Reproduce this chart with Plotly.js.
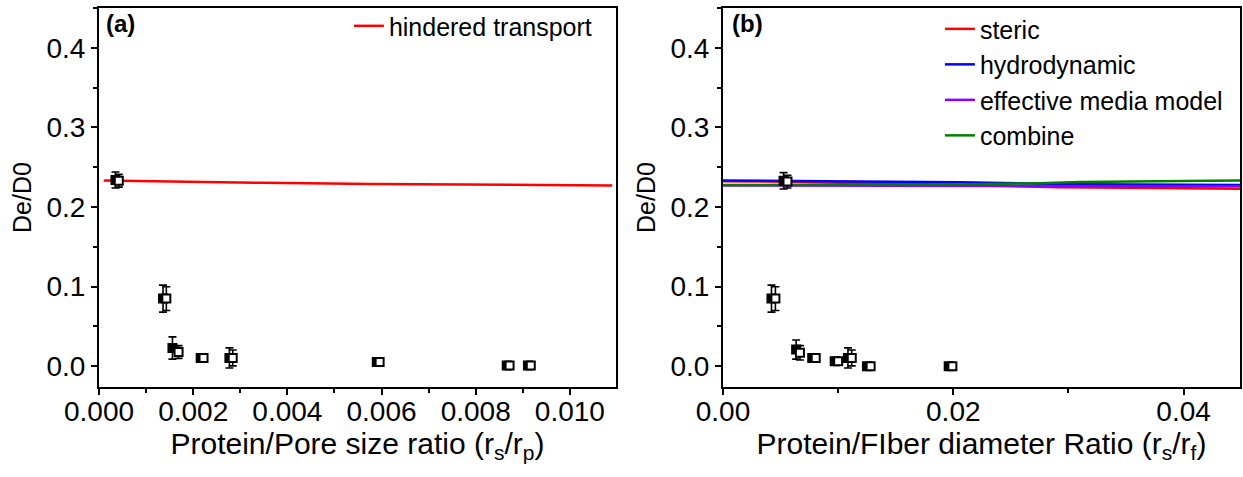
<!DOCTYPE html>
<html>
<head>
<meta charset="utf-8">
<script src="https://cdn.plot.ly/plotly-3.0.1.min.js"></script>
<style>html,body{margin:0;padding:0;background:#fff;}#chart{width:1243px;height:477px;}</style>
</head>
<body>
<div id="chart"></div>
<script>
// ---------- Panel (a) data ----------
const aFilledX = [0.00035, 0.00136, 0.00156, 0.00216, 0.00277, 0.00590, 0.00866, 0.00911];
const aFilledY = [0.234, 0.085, 0.023, 0.0105, 0.0105, 0.0055, 0.001, 0.001];
const aFilledErr = [0.010, 0.017, 0.014, 0.004, 0.0126, 0.003, 0.002, 0.002];
const aOpenX = [0.00042, 0.00143, 0.00169, 0.00222, 0.00284, 0.00596, 0.00872, 0.00917];
const aOpenY = [0.233, 0.085, 0.018, 0.0105, 0.0105, 0.0055, 0.001, 0.001];
const aOpenErr = [0.008, 0.015, 0.008, 0.003, 0.010, 0.002, 0.002, 0.002];
const hinderedX = [0.0001, 0.0013, 0.0035, 0.0058, 0.0082, 0.0105, 0.0109];
const hinderedY = [0.2333, 0.2320, 0.2304, 0.2291, 0.2279, 0.2270, 0.2270];

// ---------- Panel (b) data ----------
const bFilledX = [0.00526, 0.00421, 0.00635, 0.00775, 0.00970, 0.01085, 0.01250, 0.01960];
const bFilledY = [0.233, 0.085, 0.021, 0.0105, 0.0063, 0.0105, 0.0, 0.0];
const bFilledErr = [0.0103, 0.017, 0.012, 0.004, 0.003, 0.0126, 0.002, 0.002];
const bOpenX = [0.00560, 0.00455, 0.00668, 0.00805, 0.01000, 0.01118, 0.01282, 0.01992];
const bOpenY = [0.232, 0.085, 0.017, 0.0105, 0.0063, 0.0105, 0.0, 0.0];
const bOpenErr = [0.008, 0.015, 0.009, 0.003, 0.002, 0.010, 0.002, 0.002];

const stericX = [0, 0.004, 0.020, 0.029, 0.035, 0.041, 0.045];
const stericY = [0.2325, 0.2320, 0.2280, 0.2249, 0.2243, 0.2232, 0.2229];
const hydroX = [0, 0.013, 0.0205, 0.031, 0.040, 0.045];
const hydroY = [0.2333, 0.2325, 0.2312, 0.2285, 0.2282, 0.2278];
const emmX = [0, 0.015, 0.045];
const emmY = [0.2272, 0.2267, 0.2261];
const combineX = [0, 0.0065, 0.0205, 0.0275, 0.031, 0.040, 0.045];
const combineY = [0.2276, 0.2279, 0.2283, 0.2299, 0.2315, 0.2328, 0.2333];

const xTitleA = 'Protein/Pore size ratio (r<sub>s</sub>/r<sub>p</sub>)';
const xTitleB = 'Protein/FIber diameter Ratio (r<sub>s</sub>/r<sub>f</sub>)';
const yTitle = 'De/D0';

function lineTrace(x, y, name, color, xa, ya, legend) {
  return {x: x, y: y, name: name, type: 'scatter', mode: 'lines',
    line: {color: color, width: 2.5}, xaxis: xa, yaxis: ya, legend: legend};
}
function markTrace(x, y, err, filled, xa, ya) {
  return {x: x, y: y, type: 'scatter', mode: 'markers', showlegend: false,
    xaxis: xa, yaxis: ya,
    marker: {symbol: 'square', size: 8, color: filled ? 'black' : 'white',
      line: {color: 'black', width: 2}},
    error_y: {type: 'data', array: err, visible: true, color: 'black', thickness: 1.6, width: 4}};
}

const data = [
  lineTrace(hinderedX, hinderedY, 'hindered transport', '#ff0000', 'x', 'y', 'legend'),
  markTrace(aFilledX, aFilledY, aFilledErr, true, 'x', 'y'),
  markTrace(aOpenX, aOpenY, aOpenErr, false, 'x', 'y'),
  lineTrace(stericX, stericY, 'steric', '#ff0000', 'x2', 'y2', 'legend2'),
  lineTrace(hydroX, hydroY, 'hydrodynamic', '#0000ff', 'x2', 'y2', 'legend2'),
  lineTrace(emmX, emmY, 'effective media model', '#8b00ff', 'x2', 'y2', 'legend2'),
  lineTrace(combineX, combineY, 'combine', '#008000', 'x2', 'y2', 'legend2'),
  markTrace(bFilledX, bFilledY, bFilledErr, true, 'x2', 'y2'),
  markTrace(bOpenX, bOpenY, bOpenErr, false, 'x2', 'y2')
];

const axisCommon = {
  showline: true, linewidth: 2, linecolor: 'black', mirror: true,
  ticks: 'outside', ticklen: 6, tickwidth: 2, tickcolor: 'black',
  showgrid: false, zeroline: false,
  tickfont: {size: 28, color: 'black'}
};
const yCommon = Object.assign({}, axisCommon, {
  range: [-0.026, 0.45], dtick: 0.1, tick0: 0, tickformat: '.1f',
  minor: {dtick: 0.05, ticks: 'outside', ticklen: 4, tickwidth: 2, tickcolor: 'black'},
  title: {text: yTitle, font: {size: 25, color: 'black'}, standoff: 8}
});

const layout = {
  width: 1243, height: 477,
  margin: {l: 99, r: 3, t: 8, b: 90},
  paper_bgcolor: 'white', plot_bgcolor: 'white',
  font: {family: '"Liberation Sans", Arial, sans-serif', color: 'black'},
  xaxis: Object.assign({}, axisCommon, {
    domain: [0, 0.4531], anchor: 'y', range: [0, 0.01098], dtick: 0.002, tick0: 0, tickformat: '.3f',
    ticklabelstandoff: -8,
    minor: {dtick: 0.001, ticks: 'outside', ticklen: 4, tickwidth: 2, tickcolor: 'black'},
    title: {text: xTitleA, font: {size: 30, color: 'black'}, standoff: 6}
  }),
  yaxis: Object.assign({}, yCommon, {anchor: 'x'}),
  xaxis2: Object.assign({}, axisCommon, {
    domain: [0.5469, 1], anchor: 'y2', range: [0, 0.0449], dtick: 0.02, tick0: 0, tickformat: '.2f',
    ticklabelstandoff: -8,
    minor: {dtick: 0.01, ticks: 'outside', ticklen: 4, tickwidth: 2, tickcolor: 'black'},
    title: {text: xTitleB, font: {size: 30, color: 'black'}, standoff: 6}
  }),
  yaxis2: Object.assign({}, yCommon, {anchor: 'x2'}),
  legend: {x: 0.219, xanchor: 'left', y: 1.013, yanchor: 'top', bgcolor: 'rgba(0,0,0,0)',
    font: {size: 25, color: 'black'}, borderwidth: 0},
  legend2: {x: 0.737, xanchor: 'left', y: 1.005, yanchor: 'top', bgcolor: 'rgba(0,0,0,0)',
    font: {size: 25, color: 'black'}, borderwidth: 0, tracegroupgap: 0},
  annotations: [
    {text: '<b>(a)</b>', xref: 'paper', yref: 'paper', x: 0.004, y: 1.0, xanchor: 'left', yanchor: 'top',
      showarrow: false, font: {size: 24, color: 'black'}},
    {text: '<b>(b)</b>', xref: 'paper', yref: 'paper', x: 0.553, y: 1.0, xanchor: 'left', yanchor: 'top',
      showarrow: false, font: {size: 24, color: 'black'}}
  ]
};

Plotly.newPlot('chart', data, layout, {displayModeBar: false, staticPlot: true});
</script>
</body>
</html>
